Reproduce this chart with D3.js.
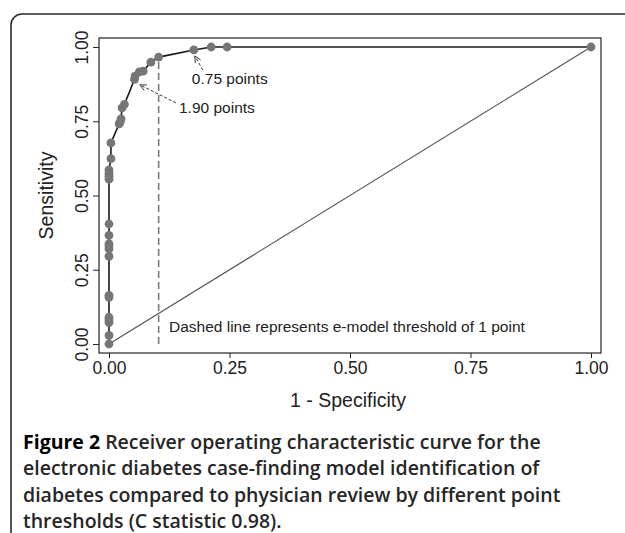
<!DOCTYPE html>
<html>
<head>
<meta charset="utf-8">
<script src="https://cdn.jsdelivr.net/npm/d3@7"></script>
<style>
  html, body { margin: 0; padding: 0; background: #fff; }
  svg { display: block; }
</style>
</head>
<body>
<svg id="chart" width="625" height="533"></svg>
<script>
// ---- data ----
const fpr = [0,0,0,0,0,0,0,0,0,0,0,0,0,0,0,0,0,
  0.004,0.004,0.021,0.023,0.025,0.027,0.032,0.053,0.054,0.063,0.071,0.087,0.103,0.176,0.212,0.245,1.0];
const tpr = [0,0.029,0.072,0.081,0.090,0.157,0.164,0.295,0.320,0.330,0.337,0.366,0.404,0.555,0.565,0.575,0.586,
  0.624,0.677,0.741,0.747,0.758,0.795,0.807,0.891,0.902,0.916,0.919,0.949,0.966,0.990,1.0,1.0,1.0];
const xTicks = [0, 0.25, 0.5, 0.75, 1.0];
const yTicks = [0, 0.25, 0.5, 0.75, 1.0];
const threshold = { x: 0.103, y: 0.966 };
const annotations = [
  { label: "0.75 points", tipX: 0.176, tipY: 0.99 },
  { label: "1.90 points", tipX: 0.064, tipY: 0.876 }
];
const xTitle = "1 - Specificity";
const yTitle = "Sensitivity";
const note = "Dashed line represents e-model threshold of 1 point";
const captionLines = [
  ["Figure 2", " Receiver operating characteristic curve for the"],
  ["", "electronic diabetes case-finding model identification of"],
  ["", "diabetes compared to physician review by different point"],
  ["", "thresholds (C statistic 0.98)."]
];

// ---- drawing ----
const svg = d3.select("#chart");
const font = "'Liberation Sans', Arial, Helvetica, sans-serif";

// outer rounded frame
svg.append("rect").attr("x", 11).attr("y", 14).attr("width", 720).attr("height", 620)
  .attr("rx", 11).attr("fill", "none").attr("stroke", "#2a2a2a").attr("stroke-width", 1.6);

const x = d3.scaleLinear().domain([0, 1]).range([109, 591]);
const y = d3.scaleLinear().domain([0, 1]).range([344, 47]);

// plot frame
svg.append("rect").attr("x", 99).attr("y", 38).attr("width", 502).attr("height", 315)
  .attr("fill", "none").attr("stroke", "#222").attr("stroke-width", 1.2);

// axes
const xAxis = svg.append("g").attr("transform", "translate(0,353)")
  .call(d3.axisBottom(x).tickValues(xTicks).tickFormat(d3.format(".2f")).tickSize(5).tickPadding(4));
xAxis.select(".domain").remove();
xAxis.selectAll("line").attr("stroke", "#222");
xAxis.selectAll("text").attr("font-family", font).attr("font-size", 17.5).attr("fill", "#222");

const yAxis = svg.append("g").attr("transform", "translate(99,0)")
  .call(d3.axisLeft(y).tickValues(yTicks).tickFormat(d3.format(".2f")).tickSize(6));
yAxis.select(".domain").remove();
yAxis.selectAll("line").attr("stroke", "#222");
yAxis.selectAll("text")
  .attr("font-family", font).attr("font-size", 17.5).attr("fill", "#222")
  .attr("x", null).attr("dy", null)
  .attr("text-anchor", "middle")
  .attr("transform", "translate(-11,0) rotate(-90)");

// axis titles
svg.append("text").attr("x", x(0.5) - 2).attr("y", 407).attr("text-anchor", "middle")
  .attr("font-family", font).attr("font-size", 19.5).attr("fill", "#222").text(xTitle);
svg.append("text").attr("transform", `translate(53,${(y(0) + y(1)) / 2}) rotate(-90)`)
  .attr("text-anchor", "middle").attr("font-family", font).attr("font-size", 19.5)
  .attr("fill", "#222").text(yTitle);

// diagonal reference
svg.append("line").attr("x1", x(0)).attr("y1", y(0)).attr("x2", x(1)).attr("y2", y(1))
  .attr("stroke", "#555").attr("stroke-width", 1.2);

// threshold dashed line
svg.append("line").attr("x1", x(threshold.x)).attr("y1", y(0)).attr("x2", x(threshold.x)).attr("y2", y(threshold.y))
  .attr("stroke", "#7a7a7a").attr("stroke-width", 1.6).attr("stroke-dasharray", "7,4");

// ROC curve
const pts = fpr.map((f, i) => [f, tpr[i]]);
svg.append("path").datum(pts)
  .attr("d", d3.line().x(d => x(d[0])).y(d => y(d[1])))
  .attr("fill", "none").attr("stroke", "#1a1a1a").attr("stroke-width", 1.6);

svg.append("g").selectAll("circle").data(pts).join("circle")
  .attr("cx", d => x(d[0])).attr("cy", d => y(d[1])).attr("r", 4.4)
  .attr("fill", "#767676");

// annotations
const arrowStyle = g => g.attr("stroke", "#333").attr("stroke-width", 1).attr("fill", "none");
function arrow(x1, y1, x2, y2) {
  const g = svg.append("g");
  g.append("line").attr("x1", x1).attr("y1", y1).attr("x2", x2).attr("y2", y2)
    .attr("stroke-dasharray", "3,2").call(arrowStyle);
  const a = Math.atan2(y2 - y1, x2 - x1), L = 7, s = 0.45;
  const p1 = [x2 - L * Math.cos(a - s), y2 - L * Math.sin(a - s)];
  const p2 = [x2 - L * Math.cos(a + s), y2 - L * Math.sin(a + s)];
  g.append("path").attr("d", `M${p1}L${x2},${y2}L${p2}`).call(arrowStyle);
}
// 0.75 points
const a0 = annotations[0];
arrow(x(a0.tipX) + 9, y(a0.tipY) + 20, x(a0.tipX) + 1, y(a0.tipY) + 6);
svg.append("text").attr("x", x(a0.tipX) - 2).attr("y", 84).attr("font-family", font)
  .attr("font-size", 15.5).attr("fill", "#222").text(a0.label);
// 1.90 points
const a1 = annotations[1];
arrow(x(a1.tipX) + 36, y(a1.tipY) + 19, x(a1.tipX), y(a1.tipY) + 1);
svg.append("text").attr("x", 179).attr("y", 113).attr("font-family", font)
  .attr("font-size", 15.5).attr("fill", "#222").text(a1.label);

// note
svg.append("text").attr("x", 169).attr("y", 332).attr("font-family", font)
  .attr("font-size", 15.5).attr("fill", "#222").text(note);

// caption
const capFont = "'Open Sans', 'Noto Sans', sans-serif";
captionLines.forEach((ln, i) => {
  const t = svg.append("text").attr("x", 23).attr("y", 448.5 + i * 26.5)
    .attr("font-family", capFont).attr("font-size", 19.5).attr("font-weight", 600);
  if (ln[0]) t.append("tspan").attr("fill", "#000").attr("font-weight", 700).text(ln[0]);
  t.append("tspan").attr("fill", "#262626").text(ln[1]);
});
</script>
</body>
</html>
